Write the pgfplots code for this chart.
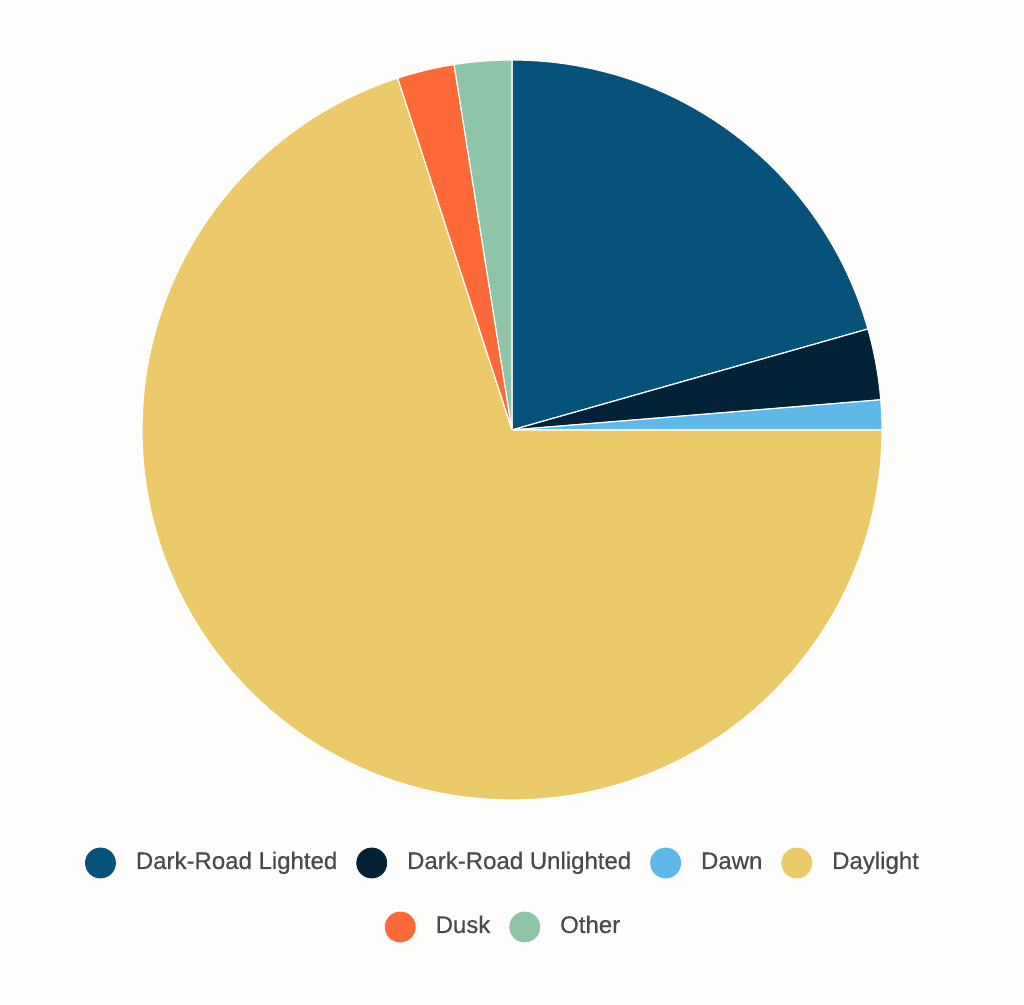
\documentclass[border=0pt]{standalone}
\usepackage{pgfplots}
\pgfplotsset{compat=1.18}
\usepackage{pgfplotstable}
\usepackage{fontspec}
\setmainfont{Liberation Sans}
\newfontfamily\legfont{Liberation Sans}[FakeBold=0.5]

\definecolor{bgc}{HTML}{FDFDFB}
\definecolor{txt}{HTML}{4A4A4A}
\definecolor{cLit}{HTML}{07527A}
\definecolor{cUnlit}{HTML}{032238}
\definecolor{cDawn}{HTML}{5EB8E8}
\definecolor{cDay}{HTML}{ECCA6A}
\definecolor{cDusk}{HTML}{FD6A38}
\definecolor{cOther}{HTML}{8EC4A7}

% share of crashes by light condition (percent)
\pgfplotstableread{
label value colour
DarkRoadLighted 20.6 cLit
DarkRoadUnlighted 3.1 cUnlit
Dawn 1.3 cDawn
Daylight 70.0 cDay
Dusk 2.5 cDusk
Other 2.5 cOther
}\piedata

\pgfplotsset{
  pieframe/.style={
    x=0.5pt, y=0.5pt,
    xmin=0, xmax=1024, ymin=0, ymax=1005,
    hide axis, clip=false,
    legend image code/.code={\fill[##1] (7.5pt,0pt) circle[radius=7.5pt];},
    legend style={draw=none, fill=none, anchor=center,
      font=\legfont\fontsize{12}{14}\selectfont, text=txt,
      nodes={inner sep=0pt, text height=8.6pt, text depth=2.6pt},
      /tikz/every even column/.append style={column sep=9.5pt},
      /tikz/every odd column/.append style={column sep=10pt}},
  },
}

\begin{document}
\begin{tikzpicture}
\begin{axis}[pieframe, name=main,
  legend columns=4,
  legend style={at={(axis cs:502,142)}}]
\fill[bgc] (axis cs:0,0) rectangle (axis cs:1024,1005);
\def\cum{0}
\pgfplotsforeachungrouped \i in {0,...,5}{
  \pgfplotstablegetelem{\i}{value}\of\piedata \let\v\pgfplotsretval
  \pgfplotstablegetelem{\i}{colour}\of\piedata \let\c\pgfplotsretval
  \pgfmathsetmacro\a{90-3.6*\cum}
  \pgfmathsetmacro\b{90-3.6*(\cum+\v)}
  \edef\cmd{\noexpand\filldraw[fill=\c, draw=white, line width=0.6pt]
    (axis cs:512,575) -- ++(\a:185pt) arc[start angle=\a, end angle=\b, radius=185pt] -- cycle;}
  \cmd
  \pgfmathsetmacro\cum{\cum+\v}
}
\addlegendimage{cLit}\addlegendentry{Dark-Road Lighted}
\addlegendimage{cUnlit}\addlegendentry{Dark-Road Unlighted}
\addlegendimage{cDawn}\addlegendentry{Dawn}
\addlegendimage{cDay}\addlegendentry{Daylight}
\end{axis}
\begin{axis}[pieframe,
  legend columns=2,
  legend style={at={(axis cs:502.5,78)}}]
\addlegendimage{cDusk}\addlegendentry{Dusk}
\addlegendimage{cOther}\addlegendentry{Other}
\end{axis}
\end{tikzpicture}
\end{document}
